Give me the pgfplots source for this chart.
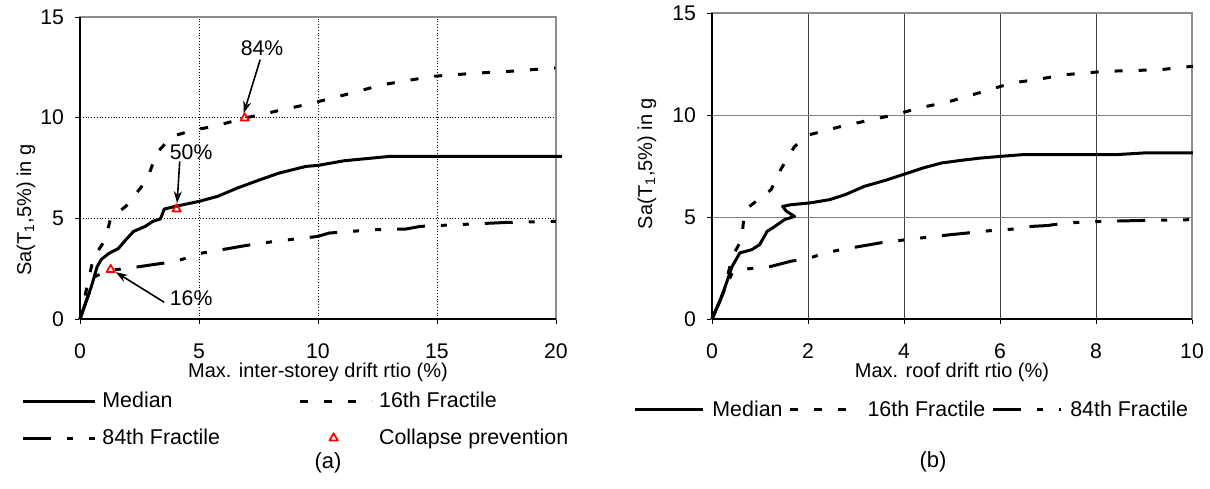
\documentclass[border=0pt]{standalone}
\usepackage{pgfplots}
\pgfplotsset{compat=1.18}
\usepackage{fontspec}
\setmainfont{Liberation Sans}
\usetikzlibrary{arrows.meta}

\pgfplotsset{
  med/.style={black, line width=1.5pt},
  f16/.style={black, line width=1.5pt, dash pattern=on 4pt off 8pt},
  f84/.style={black, line width=1.5pt, dash pattern=on 14pt off 8pt on 3pt off 8pt on 3pt off 8pt},
  legA/.style={legend image code/.code={\draw[##1] (0pt,0pt) -- (36pt,0pt);}},
  legB/.style={legend image code/.code={\draw[##1] (0pt,0pt) -- (34pt,0pt);}},
  legM/.style={legend image code/.code={\draw[##1] plot coordinates {(17pt,0pt)};}},
  common/.style={
    scale only axis, xmin=0, ymin=0, ymax=15, ytick={0,5,10,15},
    tick align=outside, xtick pos=bottom, ytick pos=left,
    major tick length=2.5pt, tick style={black, line width=0.5pt},
    axis line style={draw=black!45, line width=0.6pt},
    grid=major, clip=false,
    /pgf/number format/assume math mode=true,
    xticklabel style={font=\fontsize{10.6}{12}\selectfont, yshift=-6.5pt},
    yticklabel style={font=\fontsize{10.6}{12}\selectfont, xshift=-2pt},
    xlabel style={font=\fontsize{10.6}{12}\selectfont, anchor=center},
    ylabel style={font=\fontsize{11}{13}\selectfont, anchor=center},
    legend style={draw=none, fill=none, inner sep=0pt, font=\fontsize{10.7}{12}\selectfont},
    legend cell align=left,
    every axis plot/.append style={line join=round},
  },
}

\begin{document}
\begin{tikzpicture}
\useasboundingbox (0,0) rectangle (605pt,244pt);

% ---------------- (a) ----------------
\begin{axis}[common,
  at={(40pt,84.5pt)}, anchor=south west,
  width=238pt, height=151pt,
  xmax=20, xtick={0,5,10,15,20},
  grid style={black, densely dotted, line width=0.5pt},
  xlabel={Max. inter-storey drift rtio (\%)},
  ylabel={Sa(T\textsubscript{1},5\%) in g},
  every axis x label/.style={at={(axis description cs:0.5,-0.1755)}},
  every axis y label/.style={at={(axis description cs:-0.1134,0.361)}, rotate=90},
  legend columns=2,
  legend style={at={(axis description cs:-0.124,-0.334)}, anchor=west,
    /tikz/every odd column/.append style={column sep=1pt},
    /tikz/every even column/.append style={column sep=37pt},
    /tikz/row sep=5pt},
]
\addplot[med, legA] coordinates {
(0,0) (0.48,1.62) (0.72,2.6) (0.89,2.95) (1.2,3.25) (1.61,3.5) (1.93,3.94) (2.25,4.35)
(2.74,4.6) (3.06,4.85) (3.38,4.97) (3.54,5.46) (4.03,5.6) (5.0,5.84) (5.8,6.1) (6.6,6.5)
(7.57,6.92) (8.37,7.25) (9.5,7.58) (10,7.63) (11.1,7.86) (13.04,8.08) (20.25,8.08)};
\addlegendentry{Median}
\addplot[f16, legA] coordinates {
(0,0) (0.56,3.03) (0.97,3.77) (1.13,4.27) (1.29,5.02) (1.93,5.6) (2.82,6.92) (3.22,8.24)
(3.86,9.07) (4.83,9.4) (5.64,9.57) (6.92,9.98) (7.89,10.23) (9.5,10.65) (10.63,10.98)
(11.43,11.23) (12.72,11.64) (14.8,12.05) (16.75,12.22) (18.03,12.3) (19.97,12.47)};
\addlegendentry{16th Fractile}
\addplot[f84, legA] coordinates {
(0,0) (0.48,1.62) (0.64,2.12) (0.97,2.28) (1.45,2.45) (2.1,2.53) (3.06,2.7) (4.03,2.86)
(4.67,3.11) (5.15,3.28) (5.8,3.41) (6.92,3.64) (8.2,3.86) (9.98,4.1) (10.47,4.27)
(12.4,4.44) (13.7,4.47) (14.3,4.6) (15.9,4.69) (18,4.8) (20,4.85)};
\addlegendentry{84th Fractile}
\addplot[only marks, mark=triangle, mark size=2.4pt, red, mark options={line width=0.9pt}, legM] coordinates {
(1.29,2.45) (4.06,5.46) (6.92,9.98)};
\addlegendentry{Collapse prevention}

\draw[black, line width=0.8pt] (rel axis cs:0,0) -- (rel axis cs:1,0);
\draw[black, line width=0.8pt] (rel axis cs:0,0) -- (rel axis cs:0,1);

\draw[-{Stealth[length=6pt,width=4pt]}, line width=0.8pt] (axis cs:7.57,12.88) -- (axis cs:6.88,10.22);
\node[font=\fontsize{10.6}{12}\selectfont] at (axis cs:7.65,13.45) {84\%};
\draw[-{Stealth[length=6pt,width=4pt]}, line width=0.8pt] (axis cs:4.19,7.83) -- (axis cs:4.08,5.75);
\node[font=\fontsize{10.6}{12}\selectfont] at (axis cs:4.67,8.3) {50\%};
\draw[-{Stealth[length=6pt,width=4pt]}, line width=0.8pt] (axis cs:3.54,0.83) -- (axis cs:1.5,2.33);
\node[font=\fontsize{10.6}{12}\selectfont] at (axis cs:4.67,1.04) {16\%};
\end{axis}
\node[font=\fontsize{11}{13}\selectfont] at (164pt,12.5pt) {(a)};

% ---------------- (b) ----------------
\begin{axis}[common,
  at={(356pt,84.5pt)}, anchor=south west,
  width=240pt, height=153pt,
  xmax=10, xtick={0,2,4,6,8,10},
  grid style={black!75, line width=0.4pt},
  y grid style={black!50, line width=0.4pt},
  xlabel={Max. roof drift rtio (\%)},
  ylabel={Sa(T\textsubscript{1},5\%) in g},
  every axis x label/.style={at={(axis description cs:0.5,-0.173)}},
  every axis y label/.style={at={(axis description cs:-0.1354,0.508)}, rotate=90},
  legend columns=3,
  legend style={at={(axis description cs:-0.1646,-0.297)}, anchor=west,
    /tikz/every odd column/.append style={column sep=2pt},
    /tikz/every even column/.append style={column sep=1pt}},
]
\addplot[med, legB] coordinates {
(0,0) (0.18,0.95) (0.42,2.58) (0.58,3.24) (0.83,3.4) (0.99,3.64) (1.15,4.3) (1.31,4.54)
(1.51,4.87) (1.72,5.03) (1.55,5.28) (1.47,5.52) (1.64,5.6) (2.04,5.69) (2.45,5.85)
(2.77,6.09) (3.17,6.5) (3.66,6.83) (3.98,7.08) (4.39,7.4) (4.79,7.65) (5.2,7.78)
(5.6,7.89) (6.0,7.97) (6.49,8.06) (8.44,8.06) (9.0,8.14) (10.02,8.14)};
\addlegendentry{Median}
\addplot[f16, legB] coordinates {
(0,0) (0.26,1.44) (0.42,3.07) (0.54,3.56) (0.62,3.97) (0.66,4.87) (0.74,5.44) (1.23,6.34)
(1.43,7.32) (1.72,8.46) (2.04,9.04) (2.69,9.44) (3.17,9.69) (3.82,10.02) (4.31,10.34)
(4.96,10.67) (5.44,11.0) (6.25,11.57) (6.74,11.73) (7.38,11.98) (8.19,12.14) (9.33,12.22)
(10.02,12.39)};
\addlegendentry{16th Fractile}
\addplot[f84, legB] coordinates {
(0,0) (0.26,1.44) (0.42,2.25) (0.58,2.42) (0.91,2.5) (1.23,2.58) (1.64,2.83) (2.04,2.99)
(2.36,3.24) (2.69,3.4) (3.5,3.73) (4.15,3.92) (4.96,4.13) (6.0,4.38) (6.33,4.41)
(6.66,4.54) (6.98,4.58) (7.38,4.71) (8.19,4.79) (9.17,4.84) (10.02,4.87)};
\addlegendentry{84th Fractile}

\draw[black, line width=0.8pt] (rel axis cs:0,0) -- (rel axis cs:1,0);
\draw[black, line width=0.8pt] (rel axis cs:0,0) -- (rel axis cs:0,1);
\end{axis}
\node[font=\fontsize{11}{13}\selectfont] at (466.5pt,13pt) {(b)};
\end{tikzpicture}
\end{document}
